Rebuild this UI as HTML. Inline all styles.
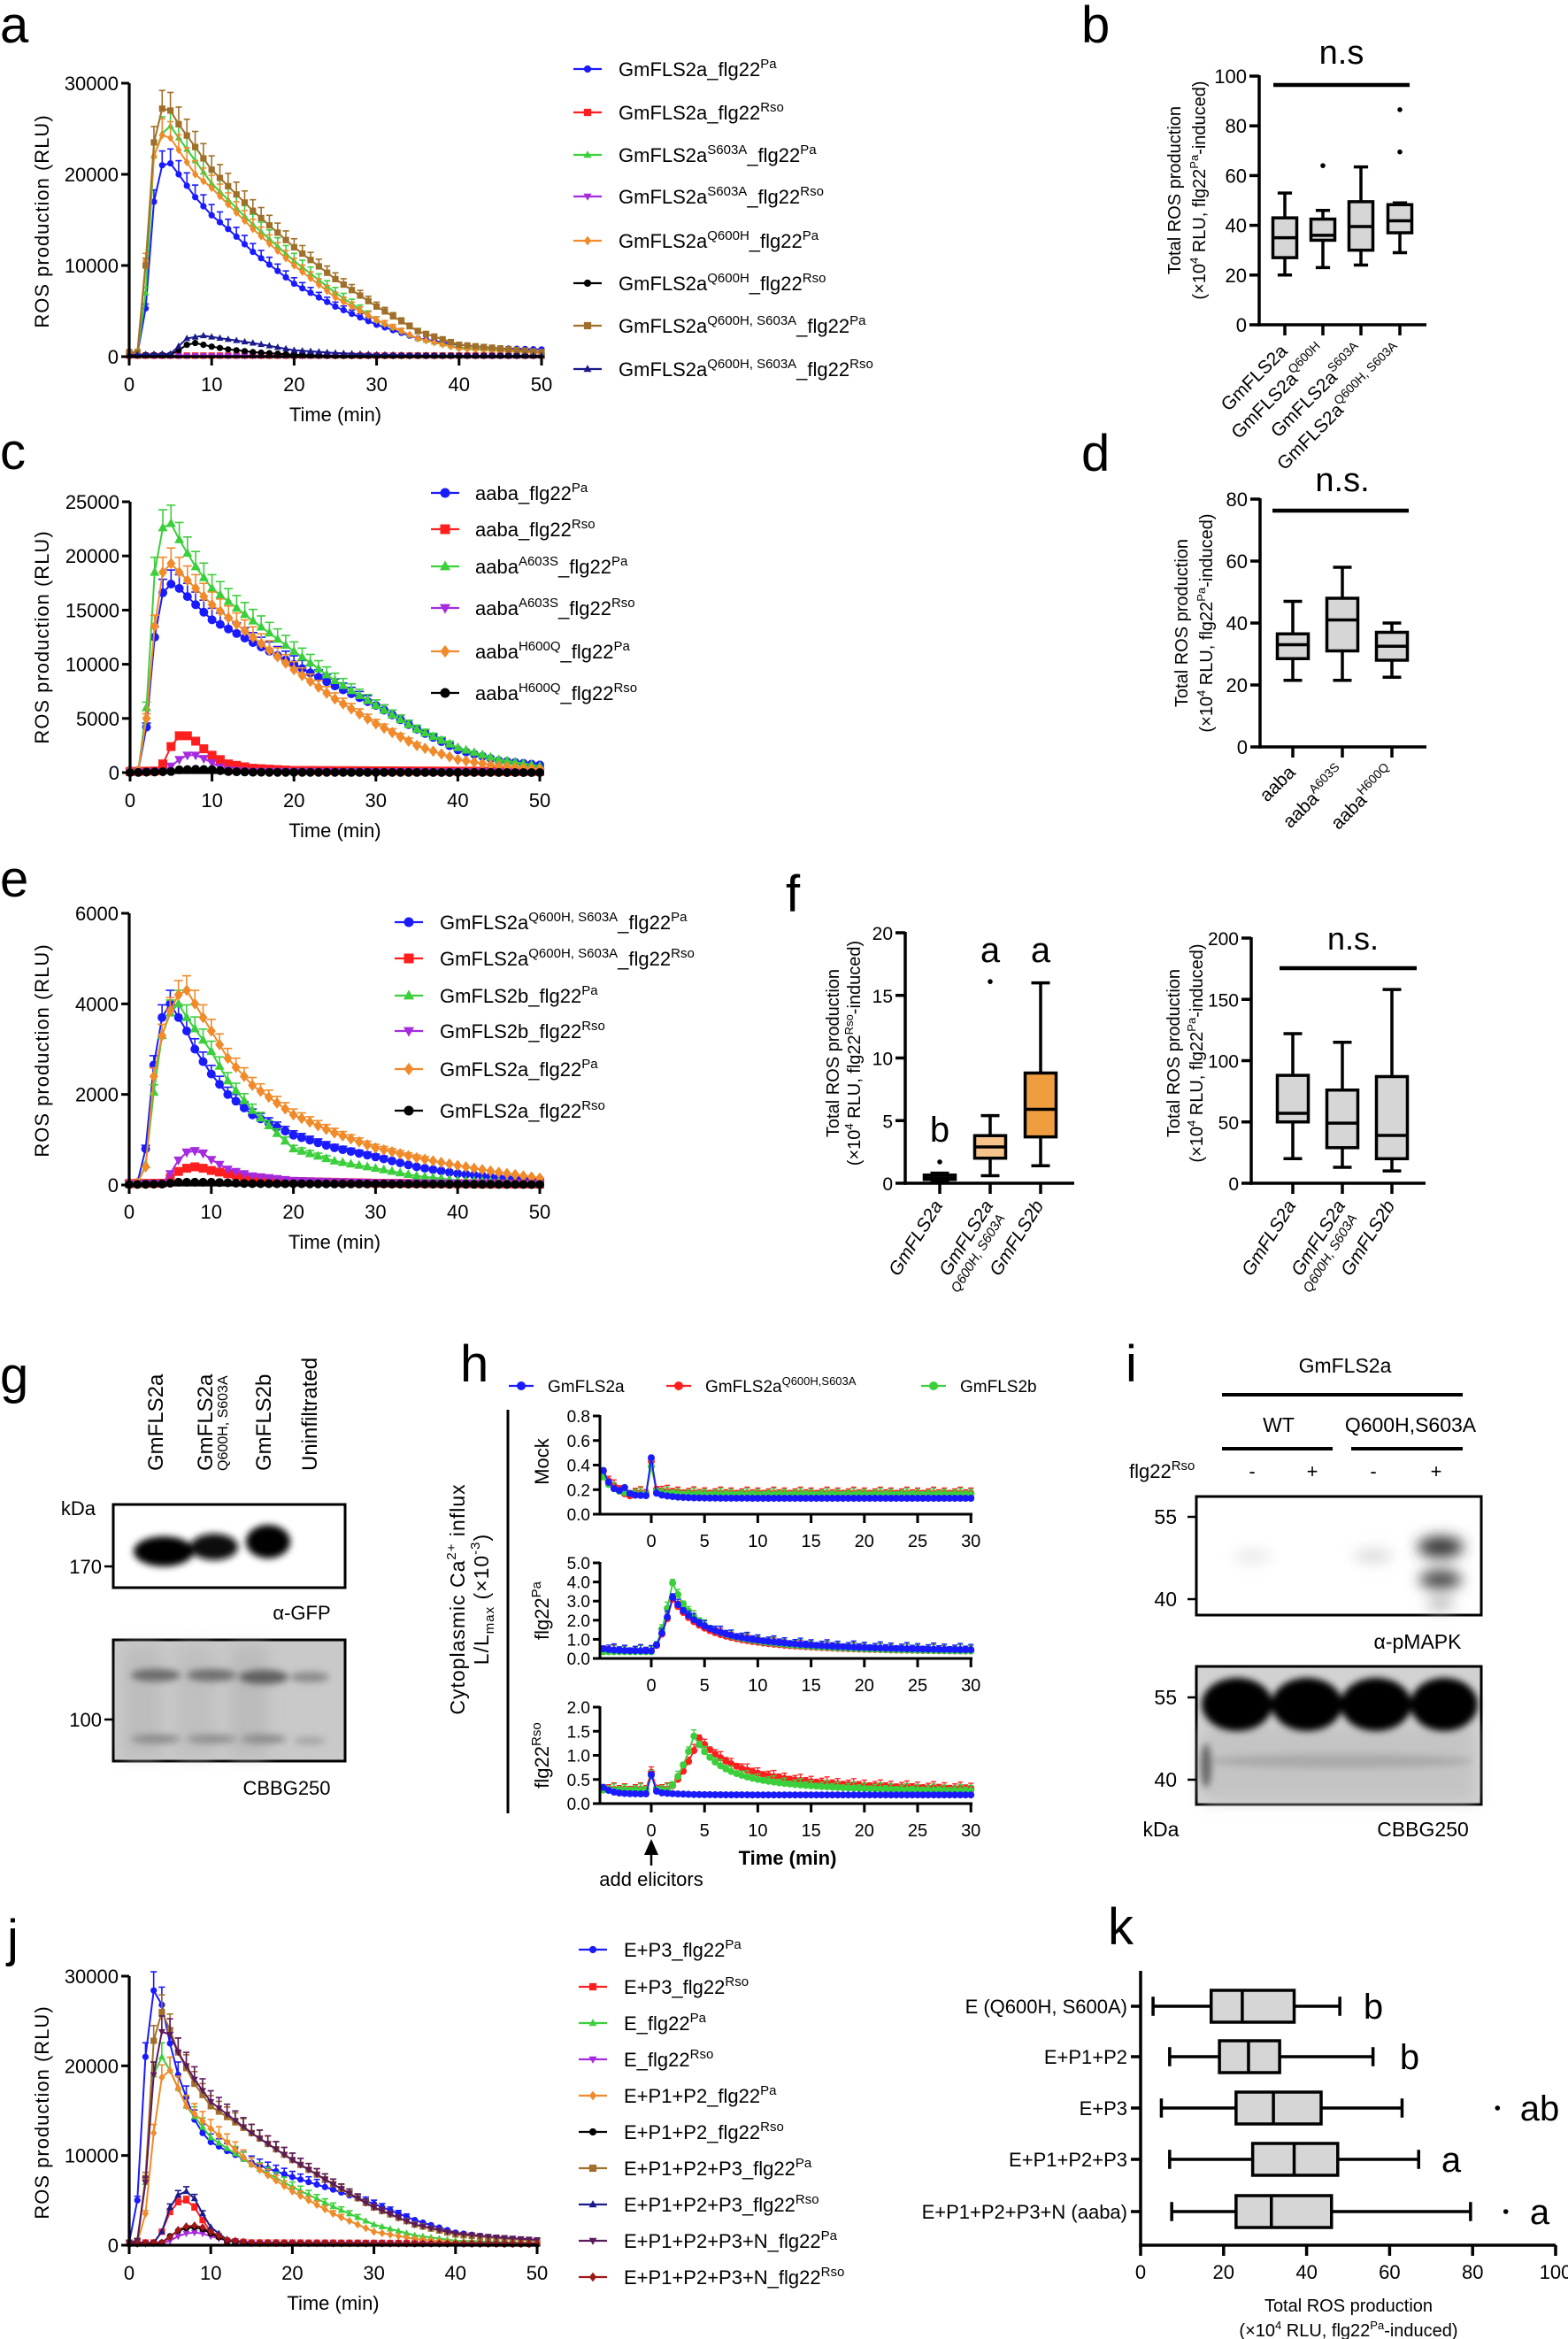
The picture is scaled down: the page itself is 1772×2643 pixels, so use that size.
<!DOCTYPE html>
<html><head><meta charset="utf-8">
<style>html,body{margin:0;padding:0;background:#fff}svg{display:block}</style>
</head><body>
<svg id="s" width="1772" height="2643" viewBox="0 0 1772 2643" xmlns="http://www.w3.org/2000/svg" font-family="Liberation Sans, Arial, sans-serif">
<defs>
<filter id="bl4" x="-50%" y="-50%" width="200%" height="200%"><feGaussianBlur stdDeviation="4"/></filter>
<filter id="bl8" x="-50%" y="-50%" width="200%" height="200%"><feGaussianBlur stdDeviation="8"/></filter>
<filter id="bl3" x="-50%" y="-50%" width="200%" height="200%"><feGaussianBlur stdDeviation="2.5"/></filter>
</defs>
<g id="static">
<text x="0" y="48" font-size="58">a</text>
<text x="1222" y="48" font-size="58">b</text>
<text x="0" y="530" font-size="58">c</text>
<text x="1222" y="532" font-size="58">d</text>
<text x="0" y="1013" font-size="58">e</text>
<text x="888" y="1030" font-size="58">f</text>
<text x="0" y="1574" font-size="58">g</text>
<text x="520" y="1561" font-size="58">h</text>
<text x="1272" y="1561" font-size="58">i</text>
<text x="8" y="2210" font-size="58">j</text>
<text x="1252" y="2197" font-size="58">k</text>
</g>
</svg>
<script>
const S=document.getElementById('s');
let o='';
function esc(s){return s.replace(/&/g,'&amp;').replace(/</g,'&lt;');}
function rich(s,fs){
  let out='',i=0,raised=0;const sub=Math.round(fs*0.66),d=Math.round(fs*0.42);
  while(i<s.length){
    let k1=s.indexOf('^{',i),k2=s.indexOf('_{',i);
    let k=-1,typ='';
    if(k1>=0&&(k2<0||k1<k2)){k=k1;typ='^';}else if(k2>=0){k=k2;typ='_';}
    if(k<0){out+=`<tspan${raised?` dy="${-raised}"`:''}>${esc(s.slice(i))}</tspan>`;raised=0;break;}
    if(k>i){out+=`<tspan${raised?` dy="${-raised}"`:''}>${esc(s.slice(i,k))}</tspan>`;raised=0;}
    let e=s.indexOf('}',k);let dd=typ=='^'?-d:Math.round(d*0.6);
    out+=`<tspan dy="${dd-raised}" font-size="${sub}">${esc(s.slice(k+2,e))}</tspan>`;raised=dd;
    i=e+1;
  }
  return out;
}
function T(x,y,s,fs,anc,ext){o+=`<text x="${x}" y="${y}" font-size="${fs}" text-anchor="${anc||'start'}" ${ext||''}>${rich(s,fs)}</text>`;}
function L(x1,y1,x2,y2,w,c){o+=`<line x1="${x1}" y1="${y1}" x2="${x2}" y2="${y2}" stroke="${c||'#000'}" stroke-width="${w||3}"/>`;}
function mk(type,x,y,r,c){
  x=+x.toFixed(1);y=+y.toFixed(1);
  if(type=='o')o+=`<circle cx="${x}" cy="${y}" r="${r}" fill="${c}"/>`;
  else if(type=='s')o+=`<rect x="${x-r}" y="${y-r}" width="${2*r}" height="${2*r}" fill="${c}"/>`;
  else if(type=='^')o+=`<polygon points="${x},${y-r*1.2} ${x-r*1.1},${y+r*0.8} ${x+r*1.1},${y+r*0.8}" fill="${c}"/>`;
  else if(type=='v')o+=`<polygon points="${x},${y+r*1.2} ${x-r*1.1},${y-r*0.8} ${x+r*1.1},${y-r*0.8}" fill="${c}"/>`;
  else if(type=='d')o+=`<polygon points="${x},${y-r*1.3} ${x+r},${y} ${x},${y+r*1.3} ${x-r},${y}" fill="${c}"/>`;
}
function curve(p,t){
  const k=p.k;
  if(t<=k[0][0])return k[0][1];
  for(let i=1;i<k.length;i++){if(t<=k[i][0]){let a=k[i-1],b=k[i];return a[1]+(b[1]-a[1])*(t-a[0])/(b[0]-a[0]);}}
  return k[k.length-1][1];
}
function flat(v){return [[0,v],[50,v]];}
function lineChart(c){
  const X=t=>c.x0+(c.x1-c.x0)*t/50, Y=v=>c.yb-(c.yb-c.yt)*v/c.ymax;
  c.series.forEach(p=>{
    let pts=[];for(let t=0;t<=50;t++){pts.push([X(t),Y(curve(p,t))]);}
    o+=`<polyline fill="none" stroke="${p.c}" stroke-width="2" points="${pts.map(q=>q[0].toFixed(1)+','+q[1].toFixed(1)).join(' ')}"/>`;
    pts.forEach((q,i)=>{let v=curve(p,i);let e=(c.yb-c.yt)*(v*(p.err!=null?p.err:0.07))/c.ymax+1;
      if(e>3){L(q[0],q[1],q[0],q[1]-e,1.6,p.c);L(q[0]-c.r,q[1]-e,q[0]+c.r,q[1]-e,1.6,p.c);}
    });
    pts.forEach(q=>mk(p.m,q[0],q[1],c.r,p.c));
  });
  L(c.x0,c.yt,c.x0,c.yb+1.5,3.2);L(c.x0-1.5,c.yb,c.x1+2,c.yb,3.2);
  c.yticks.forEach(v=>{let y=Y(v);L(c.x0-9,y,c.x0,y,3);T(c.x0-12,y+8,String(v),22,'end');});
  for(let t=0;t<=50;t+=10){let x=X(t);L(x,c.yb,x,c.yb+10,3);T(x,c.ylab,String(t),22,'middle');}
  T((c.x0+c.x1)/2,c.ytitle,'Time (min)',22,'middle');
  T(c.yl[0],c.yl[1],'ROS production (RLU)',22,'middle',`transform="rotate(-90 ${c.yl[0]} ${c.yl[1]})" letter-spacing="1"`);
  c.series.forEach((p,i)=>{let y=c.leg.ys[i];L(c.leg.x,y,c.leg.x+32,y,2.2,p.c);mk(p.m,c.leg.x+16,y,c.r+0.5,p.c);T(c.leg.tx,y+8,p.n,22);});
}
const BL='#1a1aff',RD='#ff1e1e',GR='#3ccf3c',PU='#a52bdf',OR='#f08a2a',BK='#000',BR='#a0702a',NV='#1a1a8c';
// ---- a
lineChart({x0:146,x1:612,yb:403,yt:94,ymax:30000,yticks:[0,10000,20000,30000],ylab:442,ytitle:476,yl:[55,250],r:3.6,
 leg:{x:648,tx:699,ys:[78,127,175,222,272,320,368,417]},
 series:[
 {n:'GmFLS2a_flg22^{Pa}',c:BL,m:'o',k:[[0,300],[1,300],[2,5300],[3,17000],[4,21000],[5,21200],[6,20000],[8,17500],[10,15500],[12,14000],[15,11500],[20,8000],[25,5500],[30,3500],[35,2000],[40,1300],[45,900],[50,800]]},
 {n:'GmFLS2a_flg22^{Rso}',c:RD,m:'s',k:flat(120)},
 {n:'GmFLS2a^{S603A}_flg22^{Pa}',c:GR,m:'^',k:[[0,300],[1,300],[2,7000],[3,22000],[4,24500],[5,25300],[6,24000],[8,21500],[10,19000],[15,14500],[20,10500],[25,7000],[30,4000],[35,2000],[40,1000],[50,500]]},
 {n:'GmFLS2a^{S603A}_flg22^{Rso}',c:PU,m:'v',k:flat(100)},
 {n:'GmFLS2a^{Q600H}_flg22^{Pa}',c:OR,m:'d',k:[[0,400],[1,400],[2,10500],[3,22000],[4,24300],[5,24000],[8,20000],[10,18500],[15,14000],[20,10000],[25,6500],[30,4000],[35,2000],[40,900],[50,400]]},
 {n:'GmFLS2a^{Q600H}_flg22^{Rso}',c:BK,m:'o',k:[[0,150],[5,200],[6,700],[7,1300],[8,1500],[9,1300],[10,1100],[12,800],[15,500],[20,200],[25,100],[50,100]]},
 {n:'GmFLS2a^{Q600H, S603A}_flg22^{Pa}',c:BR,m:'s',k:[[0,500],[1,500],[2,10000],[3,23500],[4,27200],[5,27000],[6,25500],[8,23000],[10,20500],[15,16000],[20,12000],[25,8500],[30,5500],[35,2800],[40,1300],[50,500]]},
 {n:'GmFLS2a^{Q600H, S603A}_flg22^{Rso}',c:NV,m:'^',k:[[0,200],[5,300],[7,2000],[9,2300],[12,1900],[15,1500],[20,700],[25,400],[30,200],[40,100],[50,100]]}
]});
// ---- c
lineChart({x0:147,x1:610,yb:873,yt:567,ymax:25000,yticks:[0,5000,10000,15000,20000,25000],ylab:912,ytitle:946,yl:[55,720],r:5,
 leg:{x:487,tx:537,ys:[557,598,640,687,736,783]},
 series:[
 {n:'aaba_flg22^{Pa}',c:BL,m:'o',k:[[0,200],[1,200],[2,4200],[3,12500],[4,16600],[5,17400],[6,17000],[8,15500],[10,14100],[15,12000],[20,10000],[25,8000],[30,6200],[35,4000],[40,2100],[45,1100],[50,700]]},
 {n:'aaba_flg22^{Rso}',c:RD,m:'s',k:[[0,100],[3,150],[4,800],[5,2400],[6,3400],[7,3400],[8,2900],[9,2200],[10,1600],[12,800],[15,400],[20,200],[50,100]]},
 {n:'aaba^{A603S}_flg22^{Pa}',c:GR,m:'^',k:[[0,200],[1,200],[2,6000],[3,18500],[4,22600],[5,23000],[6,21500],[8,19000],[10,17000],[15,14000],[20,11200],[25,8500],[30,6200],[35,4000],[40,2300],[45,1200],[50,600]]},
 {n:'aaba^{A603S}_flg22^{Rso}',c:PU,m:'v',k:[[0,50],[4,100],[5,600],[6,1200],[7,1600],[8,1600],[9,1300],[10,900],[11,500],[12,250],[15,100],[50,50]]},
 {n:'aaba^{H600Q}_flg22^{Pa}',c:OR,m:'d',k:[[0,200],[1,200],[2,5000],[3,13500],[4,18500],[5,19300],[6,18500],[8,17000],[10,15500],[15,12500],[20,9500],[25,6800],[30,4500],[35,2500],[40,1200],[45,600],[50,300]]},
 {n:'aaba^{H600Q}_flg22^{Rso}',c:BK,m:'o',k:[[0,0],[5,100],[6,250],[8,300],[10,280],[12,100],[15,30],[50,0]]}
]});
// ---- e
lineChart({x0:146,x1:610,yb:1339,yt:1032,ymax:6000,yticks:[0,2000,4000,6000],ylab:1377,ytitle:1411,yl:[55,1187],r:5,
 leg:{x:446,tx:497,ys:[1042,1083,1125,1165,1208,1255]},
 series:[
 {n:'GmFLS2a^{Q600H, S603A}_flg22^{Pa}',c:BL,m:'o',k:[[0,50],[1,50],[2,800],[3,2650],[4,3700],[5,4000],[6,3700],[7,3400],[8,3000],[10,2450],[12,2000],[15,1550],[20,1100],[25,820],[30,620],[35,400],[40,250],[45,170],[50,120]]},
 {n:'GmFLS2a^{Q600H, S603A}_flg22^{Rso}',c:RD,m:'s',k:[[0,30],[4,40],[5,150],[6,300],[7,370],[8,400],[9,370],[10,320],[12,250],[15,150],[20,80],[30,40],[50,20]]},
 {n:'GmFLS2b_flg22^{Pa}',c:GR,m:'^',k:[[0,30],[1,30],[2,450],[3,2050],[4,3300],[5,3800],[6,4000],[7,3700],[8,3450],[10,2950],[12,2300],[15,1650],[20,800],[25,530],[30,370],[35,200],[40,100],[50,40]]},
 {n:'GmFLS2b_flg22^{Rso}',c:PU,m:'v',k:[[0,30],[4,40],[5,250],[6,550],[7,720],[8,750],[9,700],[10,560],[12,350],[15,200],[20,100],[30,50],[50,30]]},
 {n:'GmFLS2a_flg22^{Pa}',c:OR,m:'d',k:[[0,50],[1,50],[2,400],[3,2400],[4,3300],[5,3850],[6,4200],[7,4300],[8,4000],[10,3400],[12,2800],[15,2200],[20,1550],[25,1150],[30,820],[35,600],[40,430],[45,280],[50,150]]},
 {n:'GmFLS2a_flg22^{Rso}',c:BK,m:'o',k:[[0,10],[4,20],[6,60],[10,60],[15,30],[50,10]]}
]});
// ---- j
lineChart({x0:146,x1:607,yb:2537,yt:2233,ymax:30000,yticks:[0,10000,20000,30000],ylab:2576,ytitle:2610,yl:[55,2387],r:3.6,
 leg:{x:654,tx:705,ys:[2203,2245,2286,2327,2368,2409,2450,2491,2532,2573]},
 series:[
 {n:'E+P3_flg22^{Pa}',c:BL,m:'o',k:[[0,300],[1,5000],[2,21000],[3,28400],[4,26800],[5,22500],[6,19000],[7,16500],[8,14000],[9,12500],[10,11500],[12,10500],[15,9200],[20,7600],[25,6200],[30,4600],[35,2800],[40,1400],[45,800],[50,500]]},
 {n:'E+P3_flg22^{Rso}',c:RD,m:'s',k:[[0,300],[3,300],[4,1500],[5,3700],[6,4800],[7,5000],[8,4200],[9,2800],[10,1500],[12,500],[15,300],[50,200]]},
 {n:'E_flg22^{Pa}',c:GR,m:'^',k:[[0,300],[1,500],[2,7000],[3,19000],[4,21000],[5,19500],[7,15500],[10,12000],[15,9000],[20,6500],[25,4300],[30,2300],[35,1100],[40,500],[50,200]]},
 {n:'E_flg22^{Rso}',c:PU,m:'v',k:[[0,100],[4,200],[5,500],[6,1000],[7,1300],[8,1400],[9,1300],[10,1000],[12,500],[15,200],[50,100]]},
 {n:'E+P1+P2_flg22^{Pa}',c:OR,m:'d',k:[[0,200],[1,300],[2,3500],[3,12500],[4,18700],[5,19500],[7,15500],[10,13000],[12,11500],[15,9000],[20,6000],[25,3500],[30,1500],[35,700],[40,300],[50,100]]},
 {n:'E+P1+P2_flg22^{Rso}',c:BK,m:'o',k:[[0,100],[4,300],[5,1000],[6,1600],[7,1900],[8,2000],[9,1800],[10,1300],[12,500],[15,200],[50,100]]},
 {n:'E+P1+P2+P3_flg22^{Pa}',c:BR,m:'s',k:[[0,300],[1,500],[2,7500],[3,22800],[4,26000],[5,24000],[6,21500],[8,18000],[10,15500],[15,12500],[20,9500],[25,6800],[30,4200],[35,2300],[40,1200],[45,800],[50,500]]},
 {n:'E+P1+P2+P3_flg22^{Rso}',c:NV,m:'^',k:[[0,300],[3,300],[4,1500],[5,4200],[6,5600],[7,6000],[8,5200],[9,3500],[10,2000],[12,600],[15,300],[50,200]]},
 {n:'E+P1+P2+P3+N_flg22^{Pa}',c:'#5b1a5b',m:'v',k:[[0,300],[1,500],[2,7000],[3,19000],[4,23800],[5,23500],[6,21500],[8,18500],[10,16000],[15,12500],[20,9500],[25,6800],[30,4200],[35,2300],[40,1300],[45,900],[50,600]]},
 {n:'E+P1+P2+P3+N_flg22^{Rso}',c:'#a01818',m:'d',k:[[0,150],[4,300],[5,900],[6,1700],[7,2100],[8,2200],[9,2000],[10,1500],[12,600],[15,250],[50,150]]}
]});
// ---- vertical boxplots
function boxV(cx,w,Y,d,fill,outs){
  const [lo,q1,md,q3,hi]=d;
  L(cx,Y(hi),cx,Y(q3),3.5);L(cx,Y(q1),cx,Y(lo),3.5);
  L(cx-w*0.3,Y(hi),cx+w*0.3,Y(hi),3.5);L(cx-w*0.3,Y(lo),cx+w*0.3,Y(lo),3.5);
  o+=`<rect x="${cx-w/2}" y="${Y(q3)}" width="${w}" height="${Y(q1)-Y(q3)}" fill="${fill}" stroke="#000" stroke-width="3.5"/>`;
  L(cx-w/2,Y(md),cx+w/2,Y(md),3.5);
  (outs||[]).forEach(v=>o+=`<circle cx="${cx}" cy="${Y(v)}" r="2.8" fill="#000"/>`);
}
function vaxis(x,yb,yt,xend,ticks,max,fs){
  const Y=v=>yb-(yb-yt)*v/max;
  L(x,yt-1,x,yb+1.7,3.5);L(x-1.7,yb,xend,yb,3.5);
  ticks.forEach(v=>{L(x-11,Y(v),x,Y(v),3.5);T(x-14,Y(v)+8,String(v),fs||22,'end');});
  return Y;
}
const GY='#d6d6d6';
{let Y=vaxis(1423,367,86,1612,[0,20,40,60,80,100],100);
 [1452,1495,1538,1582].forEach(x=>L(x,367,x,379,3.5));
 boxV(1452,27,Y,[20,27,35,43,53],GY);boxV(1495,27,Y,[23,34,36,42.5,46],GY,[64]);
 boxV(1538,27,Y,[24,30,39.5,49.5,63.5],GY);boxV(1582,27,Y,[29,37,41.8,48.3,49],GY,[69.5,86.5]);
 L(1439,96,1593,96,4.5);T(1516,72,'n.s',38,'middle');
 T(1334,215,'Total ROS production',20,'middle','transform="rotate(-90 1334 215)"');
 T(1362,215,'(×10^{4} RLU, flg22^{Pa}-induced)',20,'middle','transform="rotate(-90 1362 215)"');
 const lb=[['GmFLS2a',''],['GmFLS2a','Q600H'],['GmFLS2a','S603A'],['GmFLS2a','Q600H, S603A']];
 [1452,1495,1538,1582].forEach((x,i)=>{let s=lb[i][1]?lb[i][0]+'^{'+lb[i][1]+'}':lb[i][0];
   T(x+4,398,s,21,'end',`transform="rotate(-45 ${x+4} 398)"`);});
}
{let Y=vaxis(1424,844,564,1612,[0,20,40,60,80],80);
 [1461,1517,1573].forEach(x=>L(x,844,x,856,3.5));
 boxV(1461,35,Y,[21.5,28.5,33,36.5,47],GY);boxV(1517,35,Y,[21.5,31,41,48,58],GY);boxV(1573,35,Y,[22.5,28,32.5,37,40],GY);
 L(1438,577,1592,577,4.5);T(1517,555,'n.s.',38,'middle');
 T(1342,704,'Total ROS production',20,'middle','transform="rotate(-90 1342 704)"');
 T(1370,704,'(×10^{4} RLU, flg22^{Pa}-induced)',20,'middle','transform="rotate(-90 1370 704)"');
 ['aaba','aaba^{A603S}','aaba^{H600Q}'].forEach((s,i)=>{let x=[1461,1517,1573][i];T(x+4,874,s,21,'end',`transform="rotate(-45 ${x+4} 874)"`);});
}
{let Y=vaxis(1023,1337,1054,1214,[0,5,10,15,20],20,21);
 [1062,1119,1176].forEach(x=>L(x,1337,x,1349,3.5));
 boxV(1062,35,Y,[0.2,0.3,0.4,0.65,0.8],'#555',[1.7]);
 boxV(1119,35,Y,[0.6,2,2.9,3.8,5.4],'#f6c48a',[16.1]);
 boxV(1176,35,Y,[1.4,3.7,5.9,8.8,16],'#ef9e3f');
 T(1062,1290,'b',40,'middle');T(1119,1087,'a',40,'middle');T(1176,1087,'a',40,'middle');
 T(948,1190,'Total ROS production',20,'middle','transform="rotate(-90 948 1190)"');
 T(972,1190,'(×10^{4} RLU, flg22^{Rso}-induced)',20,'middle','transform="rotate(-90 972 1190)"');
 T(1066,1362,'GmFLS2a',21,'end','font-style="italic" transform="rotate(-58 1066 1362)"');
 T(1123,1362,'GmFLS2a',21,'end','font-style="italic" transform="rotate(-58 1123 1362)"');
 T(1136,1376,'Q600H, S603A',15,'end','font-style="italic" transform="rotate(-58 1136 1376)"');
 T(1180,1362,'GmFLS2b',21,'end','font-style="italic" transform="rotate(-58 1180 1362)"');
}
{let Y=vaxis(1414,1337,1060,1611,[0,50,100,150,200],200,21);
 [1461,1517,1573].forEach(x=>L(x,1337,x,1349,3.5));
 boxV(1461,35,Y,[20,50,57,88,122],GY);boxV(1517,35,Y,[13,29,49,76,115],GY);boxV(1573,35,Y,[10,20,39,87,158],GY);
 L(1446,1094,1601,1094,4.5);T(1529,1073,'n.s.',36,'middle');
 T(1333,1190,'Total ROS production',20,'middle','transform="rotate(-90 1333 1190)"');
 T(1359,1190,'(×10^{4} RLU, flg22^{Pa}-induced)',20,'middle','transform="rotate(-90 1359 1190)"');
 T(1465,1362,'GmFLS2a',21,'end','font-style="italic" transform="rotate(-58 1465 1362)"');
 T(1521,1362,'GmFLS2a',21,'end','font-style="italic" transform="rotate(-58 1521 1362)"');
 T(1534,1376,'Q600H, S603A',15,'end','font-style="italic" transform="rotate(-58 1534 1376)"');
 T(1577,1362,'GmFLS2b',21,'end','font-style="italic" transform="rotate(-58 1577 1362)"');
}
{const X=v=>1289+4.69*v;
 L(1289,2227,1289,2538.7,3.5);L(1287.3,2537,1758,2537,3.5);
 for(let v=0;v<=100;v+=20){L(X(v),2537,X(v),2549,3.5);T(X(v),2575,String(v),22,'middle');}
 const rows=[['E (Q600H, S600A)',[3,17,24.5,37,48],[],'b',1552],['E+P1+P2',[7,19,26,33.5,56],[],'b',1593],
  ['E+P3',[5,23,32,43.5,63],[86],'ab',1740],['E+P1+P2+P3',[7,27,37,47.5,67],[],'a',1640],
  ['E+P1+P2+P3+N (aaba)',[7.5,23,31.5,46,79.5],[88],'a',1740]];
 const ys=[2267,2324,2382,2440,2499];
 rows.forEach((r,i)=>{let y=ys[i],h=36,[lo,q1,md,q3,hi]=r[1];
  L(1278,y,1289,y,3.5);T(1274,y+8,r[0],22,'end');
  L(X(lo),y,X(q1),y,3.5);L(X(q3),y,X(hi),y,3.5);L(X(lo),y-h*0.3,X(lo),y+h*0.3,3.5);L(X(hi),y-h*0.3,X(hi),y+h*0.3,3.5);
  o+=`<rect x="${X(q1)}" y="${y-h/2}" width="${X(q3)-X(q1)}" height="${h}" fill="${GY}" stroke="#000" stroke-width="3.5"/>`;
  L(X(md),y-h/2,X(md),y+h/2,3.5);
  r[2].forEach(v=>o+=`<circle cx="${X(v)}" cy="${y}" r="2.8" fill="#000"/>`);
  T(r[4],y+14,r[3],40,'middle');
 });
 T(1524,2612,'Total ROS production',20,'middle');T(1524,2640,'(×10^{4} RLU, flg22^{Pa}-induced)',20,'middle');
}
// ---- h calcium
{const xz=736,pm=12.04,X=t=>xz+pm*t;
 L(574,1593,574,2049,3);
 [[589,BL,'GmFLS2a'],[767,RD,'GmFLS2a^{Q600H,S603A}'],[1055,GR,'GmFLS2b']].forEach(q=>{L(q[0]-14,1566,q[0]+14,1566,2.2,q[1]);mk('o',q[0],1566,5,q[1]);T(q[0]+30,1573,q[2],19);});
 const E=Math.exp;
 const pan=[
  {yt:1600,yb:1711,max:0.8,ticks:[0,0.2,0.4,0.6,0.8],lab:'Mock',
   f:[t=>t<0?0.15+0.3*E(-(t+4.8)/0.8)+0.05*E(-Math.pow((t+2.5)/0.4,2)):0.13+0.28*E(-Math.pow(t/0.25,2))+0.05*E(-t/1.5),
      t=>t<0?0.17+0.25*E(-(t+4.8)/0.9)-0.04*E(-Math.pow((t+2.2)/0.4,2)):0.17+0.22*E(-Math.pow(t/0.25,2))+0.04*E(-t/1.5),
      t=>t<0?0.16+0.2*E(-(t+4.8)/0.9):0.16+0.2*E(-Math.pow(t/0.25,2))+0.03*E(-t/1.5)]},
  {yt:1766,yb:1874,max:5,ticks:[0,1,2,3,4,5],lab:'flg22^{Pa}',
   f:[t=>t<0?0.4+0.15*E(-(t+4.8)):(t<2?0.4+2.8*Math.pow(t/2,1.6):0.4+2.8*(0.55*E(-(t-2)/2.2)+0.45*E(-(t-2)/9))),
      t=>t<0?0.38:(t<2?0.38+2.7*Math.pow(t/2,1.6):0.35+2.75*(0.55*E(-(t-2)/2.2)+0.45*E(-(t-2)/8))),
      t=>t<0?0.35:(t<2?0.35+3.6*Math.pow(t/2,1.6):0.35+3.6*(0.6*E(-(t-2)/1.8)+0.4*E(-(t-2)/8)))]},
  {yt:1929,yb:2038,max:2,ticks:[0,0.5,1,1.5,2],lab:'flg22^{Rso}',
   f:[t=>t<0?0.2+0.2*E(-(t+4.8)/0.8):0.18+0.35*E(-Math.pow(t/0.3,2))+0.07*E(-t/2),
      t=>t<0?0.3:(t<4.5?0.3+0.35*E(-Math.pow(t/0.3,2))+1.05*Math.pow(Math.max(0,(t-1.5)/3),1.5):0.28+1.07*(0.5*E(-(t-4.5)/2.5)+0.5*E(-(t-4.5)/9))),
      t=>t<0?0.28:(t<4?0.28+0.3*E(-Math.pow(t/0.3,2))+1.12*Math.pow(Math.max(0,(t-1.5)/2.5),1.5):0.25+1.15*(0.6*E(-(t-4)/2)+0.4*E(-(t-4)/8)))]}
 ];
 pan.forEach(p=>{const Y=v=>p.yb-(p.yb-p.yt)*v/p.max;
  [[1,RD],[2,GR],[0,BL]].forEach(([k,c])=>{
   let pts=[];for(let t=-4.5;t<=30.01;t+=0.5)pts.push([X(t),Y(Math.max(0,p.f[k](t)))]);
   o+=`<polyline fill="none" stroke="${c}" stroke-width="1.8" points="${pts.map(q=>q[0].toFixed(1)+','+q[1].toFixed(1)).join(' ')}"/>`;
   pts.forEach((q,i)=>{let e=3+((i*7)%5);if(k!=0||p.lab=='flg22^{Pa}'){L(q[0],q[1],q[0],q[1]-e,1.3,c);L(q[0]-3,q[1]-e,q[0]+3,q[1]-e,1.3,c);}mk('o',q[0],q[1],4,c);});
  });
  L(678,p.yt-1,678,p.yb+1.5,3);L(676.5,p.yb,1099,p.yb,3);
  p.ticks.forEach(v=>{L(670,Y(v),678,Y(v),3);T(667,Y(v)+7,v.toFixed(1),19,'end');});
  for(let t=0;t<=30;t+=5){L(X(t),p.yb,X(t),p.yb+10,3);T(X(t),p.yb+37,String(t),20,'middle');}
  let cy=(p.yt+p.yb)/2+(p.lab=='Mock'?-4:0);
  T(620,cy,p.lab,22,'middle',`transform="rotate(-90 620 ${cy})"`);
 });
 T(525,1807,'Cytoplasmic Ca^{2+} influx',23,'middle','letter-spacing="1" transform="rotate(-90 525 1807)"');
 T(552,1807,'L/L_{max} (×10^{-3})',23,'middle','letter-spacing="1" transform="rotate(-90 552 1807)"');
 o+=`<polygon points="736,2078 728,2096 744,2096" fill="#000"/>`;L(736,2094,736,2108,2.5);
 T(736,2131,'add elicitors',22,'middle');T(890,2107,'Time (min)',22,'middle','font-weight="bold"');
}
// ---- g blots
{ o+=`<rect x="128" y="1700" width="262" height="94" fill="#fff" stroke="#000" stroke-width="3"/>`;
  o+=`<g filter="url(#bl4)"><ellipse cx="185" cy="1753" rx="34" ry="17" fill="#000"/><ellipse cx="242" cy="1748" rx="27" ry="15" fill="#111"/><ellipse cx="303" cy="1742" rx="25" ry="19" fill="#000"/></g>`;
  L(118,1770,128,1770,2.5);T(115,1778,'170',22,'end');T(108,1712,'kDa',22,'end');
  T(341,1830,'α-GFP',22,'middle');
  o+=`<rect x="128" y="1853" width="262" height="137" fill="#c9c9c9" stroke="#000" stroke-width="3"/>`;
  o+=`<g filter="url(#bl8)"><rect x="140" y="1860" width="42" height="125" fill="#bdbdbd"/><rect x="200" y="1860" width="42" height="125" fill="#bfbfbf"/><rect x="260" y="1860" width="42" height="125" fill="#bbbbbb"/></g>`;
  o+=`<g filter="url(#bl4)"><ellipse cx="176" cy="1893" rx="28" ry="7" fill="#6a6a6a"/><ellipse cx="239" cy="1893" rx="28" ry="7" fill="#707070"/><ellipse cx="298" cy="1895" rx="28" ry="8" fill="#5e5e5e"/><ellipse cx="350" cy="1895" rx="22" ry="6" fill="#8a8a8a"/>
  <ellipse cx="176" cy="1965" rx="28" ry="5" fill="#8a8a8a"/><ellipse cx="239" cy="1965" rx="28" ry="5" fill="#8e8e8e"/><ellipse cx="298" cy="1965" rx="26" ry="5" fill="#8a8a8a"/><ellipse cx="350" cy="1967" rx="18" ry="4" fill="#a0a0a0"/></g>`;
  L(118,1943,128,1943,2.5);T(115,1951,'100',22,'end');T(324,2028,'CBBG250',22,'middle');
  T(184,1662,'GmFLS2a',24,'start','transform="rotate(-90 184 1662)"');
  T(240,1662,'GmFLS2a',24,'start','transform="rotate(-90 240 1662)"');
  T(257,1662,'Q600H, S603A',16,'start','transform="rotate(-90 257 1662)"');
  T(306,1662,'GmFLS2b',24,'start','transform="rotate(-90 306 1662)"');
  T(358,1662,'Uninfiltrated',24,'start','transform="rotate(-90 358 1662)"');
}
// ---- i blots
{ T(1520,1551,'GmFLS2a',23,'middle');L(1381,1576,1653,1576,4);
  T(1445,1618,'WT',23,'middle');T(1594,1618,'Q600H,S603A',23,'middle');
  L(1381,1637,1506,1637,4);L(1527,1637,1653,1637,4);
  T(1276,1670,'flg22^{Rso}',22,'start');
  [['-',1415],['+',1483],['-',1552],['+',1623]].forEach(q=>T(q[1],1670,q[0],22,'middle'));
  o+=`<rect x="1352" y="1691" width="322" height="134" fill="#fff" stroke="#000" stroke-width="3"/>`;
  o+=`<g filter="url(#bl8)"><ellipse cx="1415" cy="1759" rx="22" ry="6" fill="#e2e2e2"/><ellipse cx="1552" cy="1758" rx="22" ry="7" fill="#d6d6d6"/>
   <ellipse cx="1628" cy="1748" rx="26" ry="12" fill="#333"/><ellipse cx="1628" cy="1785" rx="24" ry="11" fill="#444"/><ellipse cx="1628" cy="1812" rx="16" ry="8" fill="#bbb"/></g>`;
  L(1342,1714,1352,1714,2.5);T(1330,1722,'55',23,'end');L(1342,1807,1352,1807,2.5);T(1330,1815,'40',23,'end');
  T(1602,1863,'α-pMAPK',23,'middle');
  o+=`<rect x="1352" y="1883" width="322" height="156" fill="#d2d2d2" stroke="#000" stroke-width="3"/>`;
  o+=`<g filter="url(#bl8)"><rect x="1360" y="1950" width="306" height="85" fill="#c4c4c4"/></g>`;
  o+=`<g filter="url(#bl4)"><ellipse cx="1398" cy="1926" rx="40" ry="30" fill="#000"/><ellipse cx="1477" cy="1926" rx="40" ry="30" fill="#000"/><ellipse cx="1555" cy="1926" rx="40" ry="30" fill="#000"/><ellipse cx="1632" cy="1926" rx="38" ry="30" fill="#000"/>
   <ellipse cx="1515" cy="1990" rx="150" ry="8" fill="#aaa"/><ellipse cx="1363" cy="1995" rx="6" ry="25" fill="#666"/></g>`;
  L(1342,1918,1342+10,1918,2.5);T(1330,1926,'55',23,'end');L(1342,2011,1352,2011,2.5);T(1330,2019,'40',23,'end');
  T(1312,2075,'kDa',23,'middle');T(1608,2075,'CBBG250',23,'middle');
}
S.insertAdjacentHTML('beforeend',o);
</script>
</body></html>
